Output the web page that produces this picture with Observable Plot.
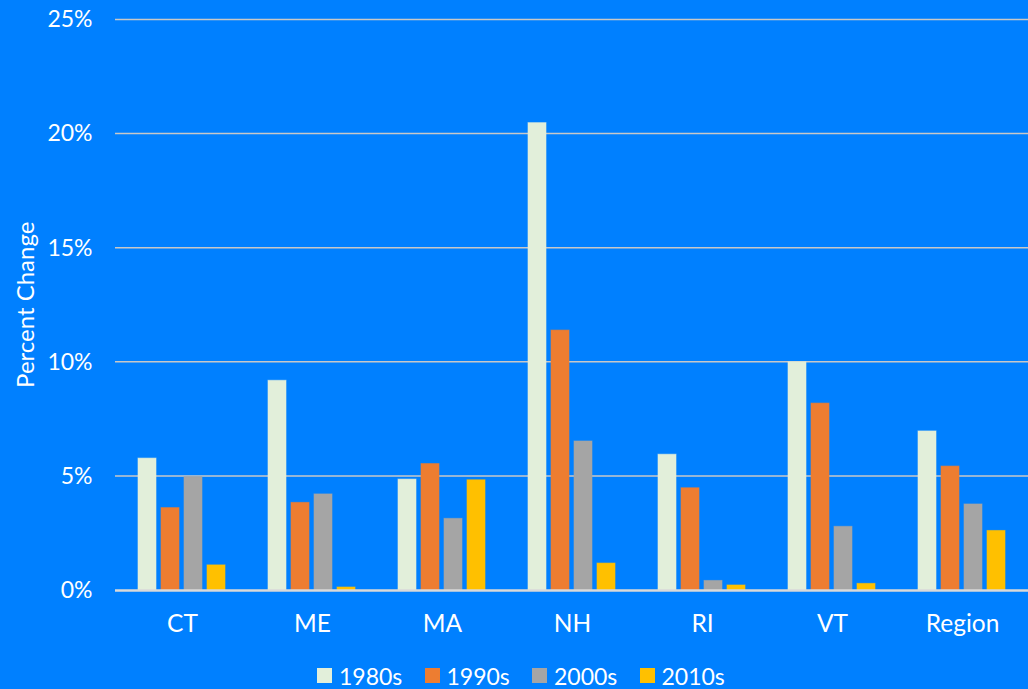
<!DOCTYPE html>
<html>
<head>
<meta charset="utf-8">
<script src="https://cdn.jsdelivr.net/npm/d3@7"></script>
<script src="https://cdn.jsdelivr.net/npm/@observablehq/plot@0.6"></script>
<style>
  html, body { margin: 0; padding: 0; background: #0080FF; }
  body { width: 1028px; height: 689px; overflow: hidden; font-family: Lato, "Open Sans", sans-serif; }
  #legend { display: flex; justify-content: flex-start; height: 39px; align-items: center; padding-left: 317px; padding-top: 12px; box-sizing: border-box; height: 39px; color: white; font-size: 23px; }
  .item { display: flex; align-items: center; }
  .sw { width: 15px; height: 15px; margin-right: 7px; }
</style>
</head>
<body>
<div id="chart"></div>
<div id="legend"></div>
<script>
const states = ["CT", "ME", "MA", "NH", "RI", "VT", "Region"];
const decades = ["1980s", "1990s", "2000s", "2010s"];
const colors = ["#E2EFDA", "#ED7D31", "#A5A5A5", "#FFC000"];
const v1980s = [5.78, 9.19, 4.86, 20.48, 5.95, 10.0, 6.97];
const v1990s = [3.61, 3.84, 5.54, 11.39, 4.48, 8.19, 5.43];
const v2000s = [4.97, 4.21, 3.14, 6.53, 0.42, 2.79, 3.77];
const v2010s = [1.10, 0.13, 4.83, 1.18, 0.22, 0.29, 2.61];
const yTicks = [0, 5, 10, 15, 20, 25];

const series = [v1980s, v1990s, v2000s, v2010s];
const data = [];
states.forEach((s, i) => decades.forEach((d, j) => data.push({state: s, decade: d, value: series[j][i]})));

const plot = Plot.plot({
  width: 1028,
  height: 650,
  marginLeft: 115,
  marginRight: 0,
  marginTop: 19.5,
  marginBottom: 60,
  style: {background: "#0080FF", color: "white", fontFamily: "Lato, 'Open Sans', sans-serif", fontSize: "23px"},
  fx: {domain: states, paddingInner: 0.31, paddingOuter: 0.155, label: null, axis: null},
  x: {domain: decades, padding: 0.2, paddingOuter: 0, axis: null},
  y: {domain: [0, 25], ticks: yTicks, label: null, axis: null},
  color: {domain: decades, range: colors},
  marks: [
    Plot.barY(data, {fx: "state", x: "decade", y: "value", fill: "decade", stroke: "decade", strokeOpacity: 0.6, strokeWidth: 1}),
    Plot.axisY({ticks: yTicks, tickFormat: d => d + "%", tickSize: 42, tickPadding: 3, strokeOpacity: 0, fontSize: 23, fill: "white", label: null}),
    Plot.axisFx({anchor: "bottom", tickSize: 0, tickPadding: 0, dy: 24, fontSize: 24.5, fill: "white", label: null})
  ]
});

const svg = d3.select(plot);
document.getElementById("chart").appendChild(plot);

const yScale = plot.scale("y");
const gridG = svg.insert("g", ":first-child");
yTicks.forEach(t => {
  if (t === 0) return;
  gridG.append("line").attr("x1", 115).attr("x2", 1028).attr("y1", yScale.apply(t)).attr("y2", yScale.apply(t))
    .attr("stroke", "#C8C8C8").attr("stroke-width", 1.5);
});
svg.append("line").attr("x1", 115).attr("x2", 1028).attr("y1", yScale.apply(0) + 0.5).attr("y2", yScale.apply(0) + 0.5)
  .attr("stroke", "#D9D9D9").attr("stroke-width", 2.5);
svg.append("text").attr("transform", `translate(34,${yScale.apply(12.5)}) rotate(-90)`)
  .attr("text-anchor", "middle").attr("fill", "white").attr("font-size", 24).text("Percent Change");

const legend = document.getElementById("legend");
decades.forEach((d, i) => {
  const it = document.createElement("div");
  it.className = "item";
  it.style.width = "107.5px";
  const sw = document.createElement("div");
  sw.className = "sw";
  sw.style.background = colors[i];
  const t = document.createElement("span");
  t.textContent = d;
  it.appendChild(sw); it.appendChild(t);
  legend.appendChild(it);
});
</script>
</body>
</html>
